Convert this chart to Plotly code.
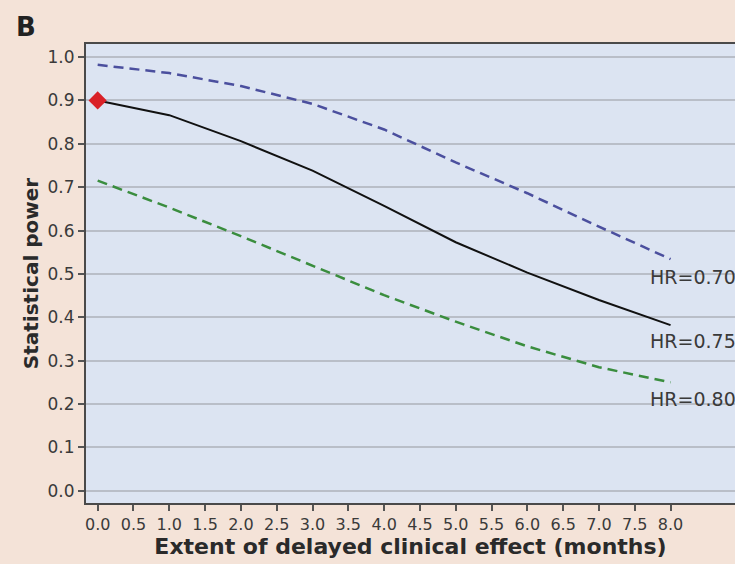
import plotly.graph_objects as go

months = [0, 1, 2, 3, 4, 5, 6, 7, 8]
power_hr070 = [0.982, 0.963, 0.933, 0.892, 0.833, 0.757, 0.686, 0.609, 0.534]
power_hr075 = [0.900, 0.866, 0.806, 0.738, 0.657, 0.573, 0.503, 0.440, 0.382]
power_hr080 = [0.715, 0.653, 0.587, 0.519, 0.451, 0.390, 0.333, 0.285, 0.250]
labels = ["HR=0.70", "HR=0.75", "HR=0.80"]
label_y = [0.493, 0.346, 0.212]
x_ticks = [0.0, 0.5, 1.0, 1.5, 2.0, 2.5, 3.0, 3.5, 4.0, 4.5, 5.0, 5.5, 6.0, 6.5, 7.0, 7.5, 8.0]
y_ticks = [0.0, 0.1, 0.2, 0.3, 0.4, 0.5, 0.6, 0.7, 0.8, 0.9, 1.0]

FONT = "'DejaVu Sans', sans-serif"
TXT = "#3a3a3a"

fig = go.Figure()
fig.add_trace(go.Scatter(x=months, y=power_hr070, mode="lines", line=dict(color="#4b4f9e", width=2.5, dash="10px,6px"), showlegend=False))
fig.add_trace(go.Scatter(x=months, y=power_hr075, mode="lines", line=dict(color="#111111", width=2), showlegend=False))
fig.add_trace(go.Scatter(x=months, y=power_hr080, mode="lines", line=dict(color="#3a8d3e", width=2.5, dash="10px,6px"), showlegend=False))
fig.add_trace(go.Scatter(x=[months[0]], y=[power_hr075[0]], mode="markers", marker=dict(symbol="diamond", size=14, color="#d92128"), showlegend=False))

for lab, ly in zip(labels, label_y):
    fig.add_annotation(x=7.68, y=ly, xref="x", yref="y", text=lab, showarrow=False, xanchor="left", yanchor="middle",
                       font=dict(family=FONT, size=19, color=TXT))

fig.add_annotation(x=-0.111, y=1.037, xref="paper", yref="paper", text="<b>B</b>", showarrow=False,
                   xanchor="left", yanchor="middle", font=dict(family=FONT, size=26, color="#222222"))

fig.update_layout(
    width=735, height=564,
    margin=dict(l=86, r=0, t=44, b=61),
    paper_bgcolor="#f4e3d8",
    plot_bgcolor="#dce4f2",
    font=dict(family=FONT, color=TXT, size=16),
)
fig.update_xaxes(range=[-0.163, 8.9], tickvals=x_ticks, ticktext=[f"{v:.1f}" for v in x_ticks],
                 ticks="outside", ticklen=6, tickwidth=1.5, tickcolor="#555555",
                 showline=True, linecolor="#4a4a4a", linewidth=2, mirror=True,
                 showgrid=False, zeroline=False, tickfont=dict(family=FONT, size=16, color=TXT),
                 title=dict(text="<b>Extent of delayed clinical effect (months)</b>", font=dict(family=FONT, size=22, color="#2a2a2a"), standoff=0))
fig.update_yaxes(range=[-0.028, 1.03], tickvals=y_ticks, ticktext=[f"{v:.1f}" for v in y_ticks],
                 ticks="outside", ticklen=6, tickwidth=1.5, tickcolor="#555555",
                 showline=True, linecolor="#4a4a4a", linewidth=2, mirror=False,
                 showgrid=True, gridcolor="#b9bec8", gridwidth=2, zeroline=False,
                 tickfont=dict(family=FONT, size=17, color=TXT),
                 title=dict(text="<b>Statistical power</b>", font=dict(family=FONT, size=20, color="#2a2a2a"), standoff=4))

fig.write_html("out.html")
